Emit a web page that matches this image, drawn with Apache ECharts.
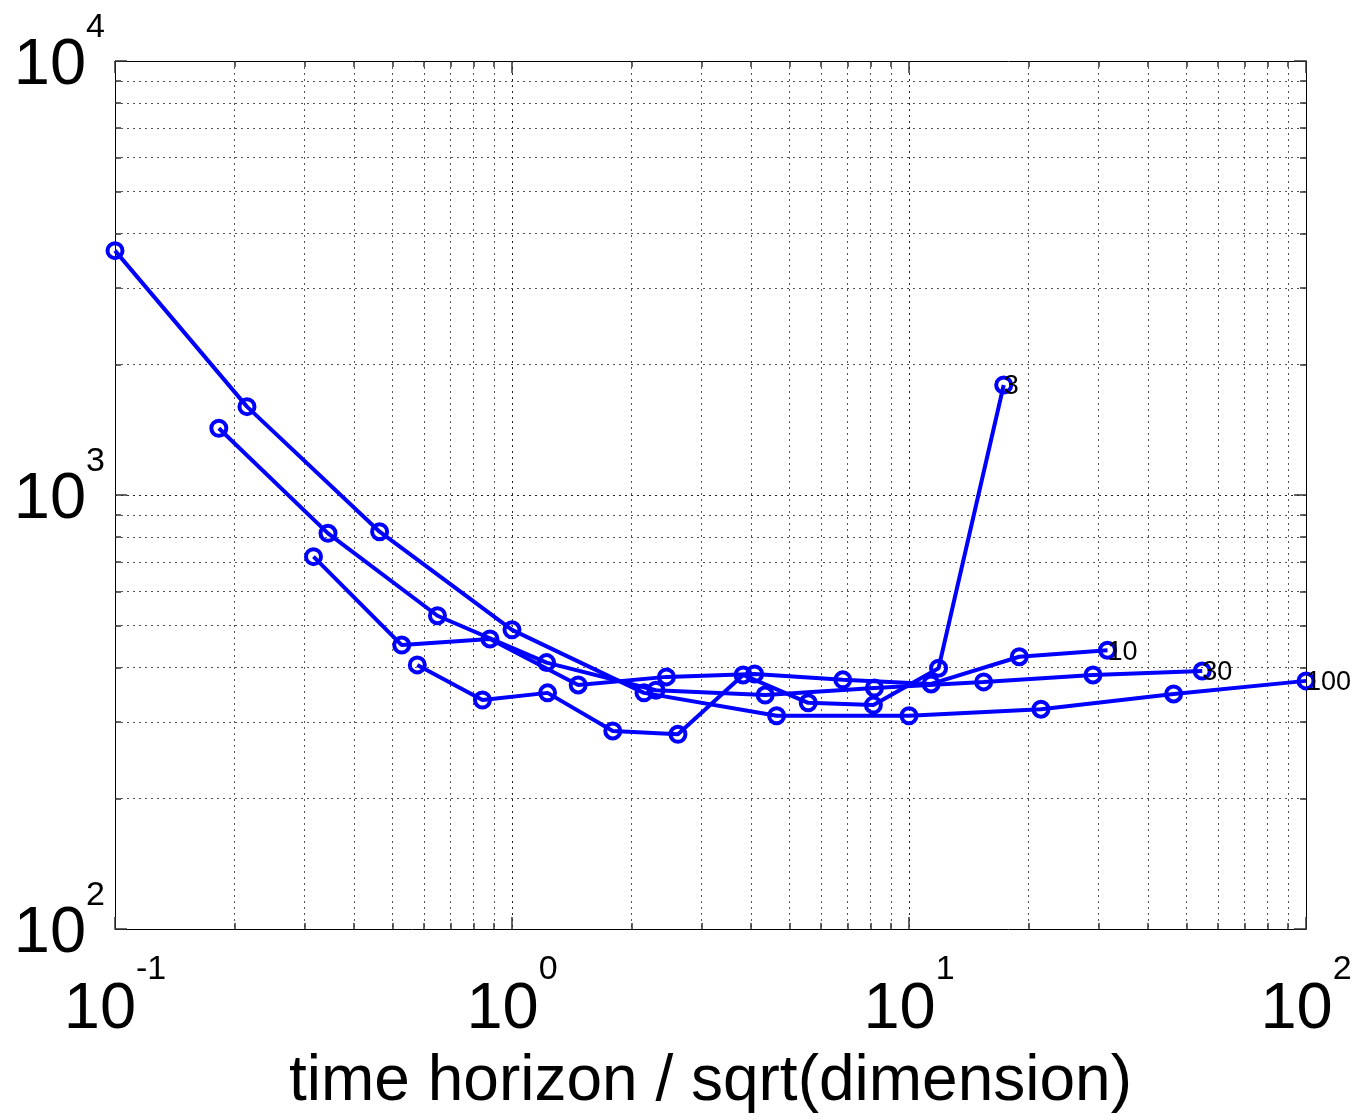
<!DOCTYPE html>
<html><head><meta charset="utf-8">
<script src="https://cdn.jsdelivr.net/npm/echarts@6/dist/echarts.min.js"></script>
<style>html,body{margin:0;padding:0;background:#fff}#c{width:1355px;height:1120px}</style>
</head><body><div id="c"></div>
<script>
// series labels (dimension)
const seriesNames = ['3', '10', '30', '100'];
// x = time horizon / sqrt(dimension), y = value
const xDim3   = [0.5774, 0.8425, 1.229, 1.794, 2.618, 3.820, 5.574, 8.134, 11.87, 17.32];
const yDim3   = [406, 337, 350, 286, 281, 385, 332, 328, 399, 1793];
const xDim10  = [0.3162, 0.5275, 0.880, 1.468, 2.449, 4.085, 6.813, 11.37, 18.96, 31.62];
const yDim10  = [721, 451, 466, 365, 381, 387, 375, 367, 424, 439];
const xDim30  = [0.1826, 0.344, 0.649, 1.222, 2.304, 4.342, 8.183, 15.42, 29.07, 54.77];
const yDim30  = [1425, 816, 527, 411, 355, 346, 359, 371, 385, 393];
const xDim100 = [0.1, 0.215, 0.464, 1.0, 2.15, 4.64, 10, 21.5, 46.4, 100];
const yDim100 = [3656, 1598, 823, 489, 350, 310, 310, 321, 348, 373];
// axis ranges
const xRange = [0.1, 100];
const yRange = [100, 10000];
const xTitle = 'time horizon / sqrt(dimension)';

const xs = [xDim3, xDim10, xDim30, xDim100];
const ys = [yDim3, yDim10, yDim30, yDim100];

const FONT = 'Liberation Sans';
const BLUE = '#0000ff';

function expFmt(v) {
  const e = Math.round(Math.log10(v));
  return '{b|10}{s|' + e + '}';
}
function richFor(baseLH) {
  return {
    b: {fontSize: 65, fontFamily: FONT, color: '#000', lineHeight: baseLH, verticalAlign: 'middle'},
    s: {fontSize: 34, fontFamily: FONT, color: '#000', height: 24, lineHeight: 24, verticalAlign: 'top'}
  };
}
const gridMajor = {show: true, lineStyle: {color: '#222', width: 1, type: [2, 4]}};
const gridMinor = {show: true, lineStyle: {color: '#555', width: 1, type: [2, 4]}};
const lineStyleAxis = {show: true, lineStyle: {color: '#000', width: 1}};
const majorTick = {show: true, inside: true, length: 12, lineStyle: {color: '#333', width: 1.5}};
const minorTick = {show: true, splitNumber: 9, length: 6, lineStyle: {color: '#333', width: 1.5}};

const series = seriesNames.map((nm, i) => {
  const data = xs[i].map((x, j) => {
    const item = {value: [x, ys[i][j]]};
    if (j === xs[i].length - 1) {
      item.label = {show: true, formatter: nm, position: [9.5, 11.5], align: 'left', verticalAlign: 'middle',
        fontSize: 27, fontFamily: FONT, color: '#000'};
    }
    return item;
  });
  return {
    type: 'line', name: nm, data: data, xAxisIndex: 0, yAxisIndex: 0,
    symbol: 'circle', symbolSize: 15, showSymbol: true,
    lineStyle: {color: BLUE, width: 4},
    itemStyle: {color: 'rgba(255,255,255,0)', borderColor: BLUE, borderWidth: 4},
    animation: false, z: 5
  };
});

const chart = echarts.init(document.getElementById('c'), null, {renderer: 'canvas'});
chart.setOption({
  backgroundColor: '#fff',
  animation: false,
  grid: {left: 115, right: 49, top: 61, bottom: 191, containLabel: false, outerBoundsMode: 'none'},
  xAxis: [{
    type: 'log', logBase: 10, min: xRange[0], max: xRange[1], position: 'bottom',
    axisLine: lineStyleAxis, axisTick: majorTick, minorTick: minorTick,
    splitLine: gridMajor, minorSplitLine: gridMinor,
    axisLabel: {formatter: expFmt, margin: 29, rich: richFor(104)},
    name: xTitle, nameLocation: 'middle', nameGap: 121,
    nameTextStyle: {fontSize: 64, fontFamily: FONT, color: '#000'}
  }, {
    type: 'log', logBase: 10, min: xRange[0], max: xRange[1], position: 'top',
    axisLine: lineStyleAxis, axisTick: majorTick, minorTick: minorTick,
    splitLine: {show: false}, axisLabel: {show: false}
  }],
  yAxis: [{
    type: 'log', logBase: 10, min: yRange[0], max: yRange[1], position: 'left',
    axisLine: lineStyleAxis, axisTick: majorTick, minorTick: minorTick,
    splitLine: gridMajor, minorSplitLine: gridMinor,
    axisLabel: {formatter: expFmt, margin: 10, padding: [10, 0, 0, 0], rich: richFor(100)}
  }, {
    type: 'log', logBase: 10, min: yRange[0], max: yRange[1], position: 'right',
    axisLine: lineStyleAxis, axisTick: majorTick, minorTick: minorTick,
    splitLine: {show: false}, axisLabel: {show: false}
  }],
  series: series
});
</script></body></html>
